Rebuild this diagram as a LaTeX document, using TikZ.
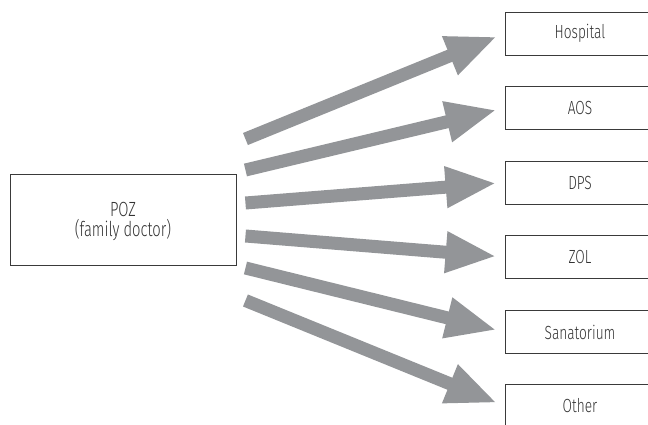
\documentclass[tikz,border=0pt]{standalone}
\usepackage{fontspec}
\setmainfont[FakeStretch=0.72]{Fira Sans Light}
\usetikzlibrary{arrows.meta}
\definecolor{arrowgray}{HTML}{939598}
\definecolor{boxline}{HTML}{3A3A3A}
\definecolor{textgray}{HTML}{333333}
\tikzset{
  box/.style={draw=boxline, line width=0.9pt, rectangle, inner sep=0pt, text=textgray, font=\fontsize{19}{22}\selectfont, align=center},
  destbox/.style={box, minimum width=150pt, minimum height=43pt},
  bigarrow/.style={draw=arrowgray, line width=13pt, -{Triangle[length=51pt,width=38pt]}, shorten >=8pt}
}
\begin{document}
\begin{tikzpicture}[x=1pt,y=-1pt]
\useasboundingbox (0,0) rectangle (648,425);
\node[box, minimum width=226pt, minimum height=91pt] (poz) at (123,219.5) {};
\node[text=textgray, font=\fontsize{20.5}{20}\selectfont, align=center, inner sep=0pt] (poztext) at ([yshift=-1.5pt]poz.center) {POZ\\(family doctor)};
\node[destbox] (hosp) at (580,33.5) {Hospital};
\node[destbox] (aos) at (580,108) {AOS};
\node[destbox] (dps) at (580,182.5) {DPS};
\node[destbox] (zol) at (580,257) {ZOL};
\node[destbox] (sana) at (580,332) {Sanatorium};
\node[destbox] (other) at (580,406) {Other};
\draw[bigarrow] ([shift={(9,-80.5)}]poz.east) -- (hosp.west);
\draw[bigarrow] ([shift={(9,-49.5)}]poz.east) -- (aos.west);
\draw[bigarrow] ([shift={(9,-16.5)}]poz.east) -- (dps.west);
\draw[bigarrow] ([shift={(9,16.5)}]poz.east) -- (zol.west);
\draw[bigarrow] ([shift={(9,48.5)}]poz.east) -- (sana.west);
\draw[bigarrow] ([shift={(9,81)}]poz.east) -- (other.west);
\end{tikzpicture}
\end{document}
